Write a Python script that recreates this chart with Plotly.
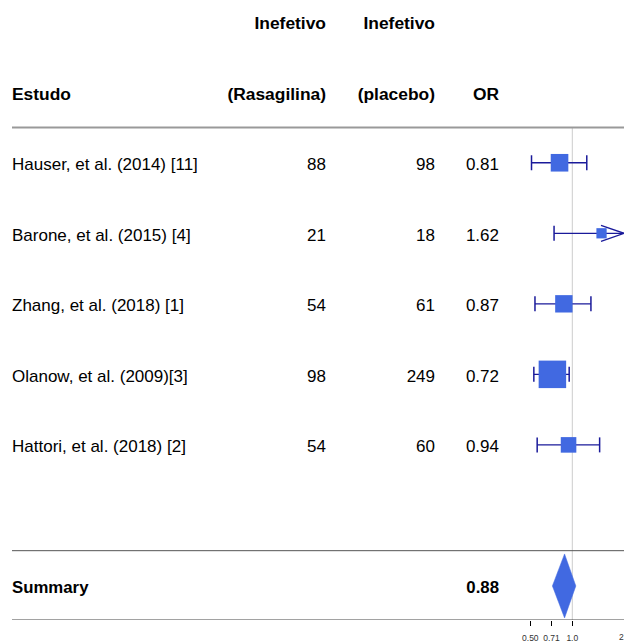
import math
import plotly.graph_objects as go

# ---- data -------------------------------------------------------------
estudos = [
    "Hauser, et al. (2014) [11]",
    "Barone, et al. (2015) [4]",
    "Zhang, et al. (2018) [1]",
    "Olanow, et al. (2009)[3]",
    "Hattori, et al. (2018) [2]",
]
inef_rasagilina = [88, 21, 54, 98, 54]
inef_placebo = [98, 18, 61, 249, 60]
odds_ratio = [0.81, 1.62, 0.87, 0.72, 0.94]
ic_inferior = [0.51, 0.74, 0.54, 0.53, 0.56]
ic_superior = [1.27, 3.54, 1.36, 0.95, 1.57]

resumo_label = "Summary"
resumo_or = 0.88
resumo_ic_inf = 0.72
resumo_ic_sup = 1.06

cabecalho_1 = ["", "Inefetivo", "Inefetivo", ""]
cabecalho_2 = ["Estudo", "(Rasagilina)", "(placebo)", "OR"]

tick_vals = [0.5, 0.71, 1.0]
tick_text = ["0.50", "0.71", "1.0"]
extra_tick_val = 2.5
extra_tick_text = "2.50"

# ---- layout constants -------------------------------------------------
W, H = 624, 642
AXIS_BOTTOM_PX = 620
ROW0_PX, ROW_PX = 21.7, 70.53           # row 0 centre and row pitch (px)
Y_TOP = -ROW0_PX / ROW_PX
Y_BOT = (AXIS_BOTTOM_PX - ROW0_PX) / ROW_PX

FOREST_LEFT_PX = 500
REF_PX = 572.3                          # pixel of OR = 1
PX_PER_DECADE = 139.5
X2_RANGE = [(FOREST_LEFT_PX - REF_PX) / PX_PER_DECADE, (W - REF_PX) / PX_PER_DECADE]
X2_DOMAIN = [FOREST_LEFT_PX / W, 1.0]
X2_MAX = 10 ** X2_RANGE[1]

COL_X = [12, 326, 435, 499]
FONT = "Liberation Sans, Arial, sans-serif"
FS = 17.0
FS_HEAD = 17.4
FS_SUM = 16.8
TEXT_DY = 0.045
TICK_FS = 8.5

LINE_COL = "#1a1a9a"
BOX_COL = "royalblue"

study_rows = [2 + i for i in range(len(estudos))]
summary_row = 8

fig = go.Figure()


def add_text(xs, ys, texts, pos, bold=False, size=FS):
    fig.add_trace(go.Scatter(
        x=xs, y=[y + TEXT_DY for y in ys], text=texts, mode="text",
        textposition=pos, cliponaxis=False, hoverinfo="skip", showlegend=False,
        textfont=dict(family=FONT, size=size, color="black",
                      weight="bold" if bold else "normal"),
        xaxis="x", yaxis="y",
    ))


# header rows
for c in range(4):
    pos = "middle right" if c == 0 else "middle left"
    add_text([COL_X[c], COL_X[c]], [0, 1], [cabecalho_1[c], cabecalho_2[c]], pos,
             bold=True, size=FS_HEAD)

# study rows
add_text([COL_X[0]] * len(estudos), study_rows, estudos, "middle right")
add_text([COL_X[1]] * len(estudos), study_rows, [str(v) for v in inef_rasagilina], "middle left")
add_text([COL_X[2]] * len(estudos), study_rows, [str(v) for v in inef_placebo], "middle left")
add_text([COL_X[3]] * len(estudos), study_rows, [f"{v:.2f}" for v in odds_ratio], "middle left")

# summary row
add_text([COL_X[0]], [summary_row], [resumo_label], "middle right", bold=True, size=FS_SUM)
add_text([COL_X[3]], [summary_row], [f"{resumo_or:.2f}"], "middle left", bold=True, size=FS_SUM)

# ---- forest plot --------------------------------------------------------
CAP_PX = 15
cap_h = CAP_PX / ROW_PX / 2

# confidence-interval lines (clipped at the axis limit)
ci_x, ci_y = [], []
for lo, hi, r in zip(ic_inferior, ic_superior, study_rows):
    ci_x += [lo, min(hi, X2_MAX), None]
    ci_y += [r, r, None]
fig.add_trace(go.Scatter(x=ci_x, y=ci_y, mode="lines", line=dict(color=LINE_COL, width=1.3),
                         hoverinfo="skip", showlegend=False, xaxis="x2", yaxis="y"))

# end caps for the interval ends inside the axis
cap_x, cap_y = [], []
for lo, hi, r in zip(ic_inferior, ic_superior, study_rows):
    for v in (lo, hi):
        if v <= X2_MAX:
            cap_x += [v, v, None]
            cap_y += [r - cap_h, r + cap_h, None]
fig.add_trace(go.Scatter(x=cap_x, y=cap_y, mode="lines", line=dict(color=LINE_COL, width=1.5),
                         hoverinfo="skip", showlegend=False, xaxis="x2", yaxis="y"))

# open arrow heads for intervals beyond the axis
ARROW_LEN_PX, ARROW_HALF_PX = 23, 8
for hi, r in zip(ic_superior, study_rows):
    if hi > X2_MAX:
        base = X2_MAX / 10 ** (ARROW_LEN_PX / PX_PER_DECADE)
        ah = ARROW_HALF_PX / ROW_PX
        fig.add_trace(go.Scatter(
            x=[base, X2_MAX, base], y=[r - ah, r, r + ah], mode="lines",
            line=dict(color=LINE_COL, width=1.3), hoverinfo="skip", showlegend=False,
            xaxis="x2", yaxis="y"))

# boxes sized by precision of each estimate
prec = [1 / (math.log(h) - math.log(l)) for l, h in zip(ic_inferior, ic_superior)]
sizes = [27.5 * p / max(prec) for p in prec]
fig.add_trace(go.Scatter(
    x=odds_ratio, y=study_rows, mode="markers",
    marker=dict(symbol="square", size=sizes, color=BOX_COL, opacity=1, line=dict(width=0)),
    hoverinfo="skip", showlegend=False, xaxis="x2", yaxis="y"))

# summary diamond
dh = 32 / ROW_PX
fig.add_trace(go.Scatter(
    x=[resumo_ic_inf, resumo_or, resumo_ic_sup, resumo_or, resumo_ic_inf],
    y=[summary_row, summary_row - dh, summary_row, summary_row + dh, summary_row],
    mode="lines", fill="toself", fillcolor=BOX_COL, line=dict(color=BOX_COL, width=0.5),
    hoverinfo="skip", showlegend=False, xaxis="x2", yaxis="y"))

# ---- rules and reference line -----------------------------------------
shapes = [
    dict(type="line", xref="x2", yref="y", x0=1, x1=1, y0=1.5, y1=Y_BOT,
         line=dict(color="#cccccc", width=1), layer="below"),
    dict(type="line", xref="x", yref="y", x0=12, x1=W, y0=1.5, y1=1.5,
         line=dict(color="#999999", width=2)),
    dict(type="line", xref="x", yref="y", x0=12, x1=W, y0=7.5, y1=7.5,
         line=dict(color="#555555", width=1)),
    dict(type="line", xref="x", yref="y", x0=12, x1=W, y0=Y_BOT, y1=Y_BOT,
         line=dict(color="#444444", width=1)),
]

extra_paper_x = X2_DOMAIN[0] + (math.log10(extra_tick_val) - X2_RANGE[0]) / (X2_RANGE[1] - X2_RANGE[0]) * (X2_DOMAIN[1] - X2_DOMAIN[0])

fig.update_layout(
    width=W, height=H,
    margin=dict(l=0, r=0, t=0, b=0),
    paper_bgcolor="white", plot_bgcolor="white",
    showlegend=False,
    xaxis=dict(range=[0, W], domain=[0, 1], visible=False, fixedrange=True),
    xaxis2=dict(type="log", range=X2_RANGE, domain=X2_DOMAIN, anchor="y",
                tickvals=tick_vals, ticktext=tick_text, ticks="outside", ticklen=5,
                tickcolor="black", tickwidth=1, showgrid=False, zeroline=False,
                showline=False, ticklabelstandoff=5,
                tickfont=dict(family=FONT, size=TICK_FS, color="#333333"),
                fixedrange=True),
    yaxis=dict(range=[Y_BOT, Y_TOP], domain=[(H - AXIS_BOTTOM_PX) / H, 1], visible=False,
               fixedrange=True),
    shapes=shapes,
    annotations=[dict(xref="paper", yref="paper", x=extra_paper_x, y=(H - 637) / H,
                      text=extra_tick_text, showarrow=False, xanchor="center", yanchor="middle",
                      font=dict(family=FONT, size=TICK_FS, color="#333333"))],
)

fig.write_html("out.html")
